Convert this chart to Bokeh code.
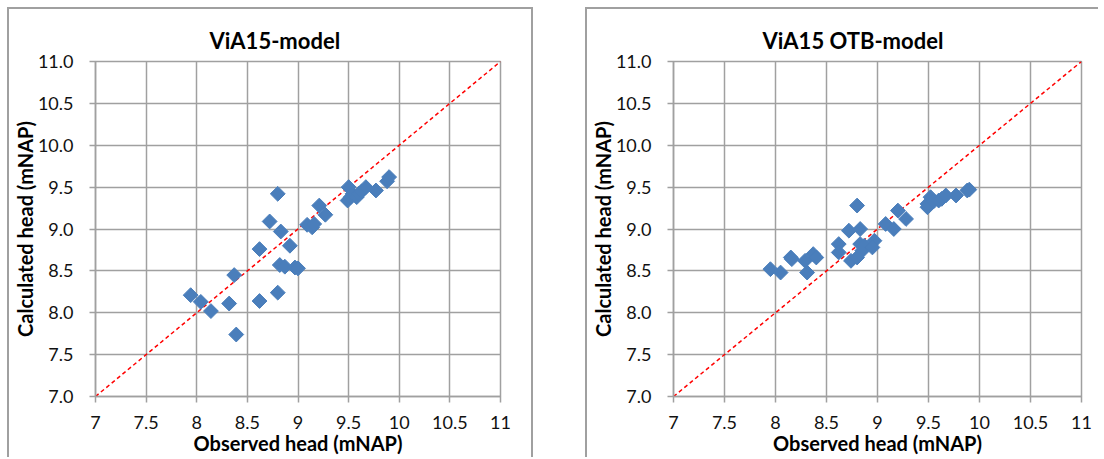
import math
from bokeh.plotting import figure
from bokeh.layouts import row
from bokeh.models import FixedTicker, Range1d
from bokeh.embed import file_html
from bokeh.resources import INLINE

# ---- data ----
titles = ["ViA15-model", "ViA15 OTB-model"]
x_label = "Observed head (mNAP)"
y_label = "Calculated head (mNAP)"

left_x = [7.94, 8.04, 8.14, 8.32, 8.37, 8.39, 8.62, 8.62, 8.72, 8.80, 8.80, 8.83, 8.82,
          8.87, 8.92, 8.97, 9.00, 9.09, 9.14, 9.16, 9.21, 9.27, 9.49, 9.50, 9.52, 9.54,
          9.58, 9.60, 9.63, 9.67, 9.77, 9.88, 9.90]
left_y = [8.21, 8.13, 8.02, 8.11, 8.45, 7.74, 8.76, 8.14, 9.09, 9.42, 8.24, 8.97, 8.57,
          8.55, 8.80, 8.54, 8.53, 9.05, 9.02, 9.06, 9.28, 9.17, 9.34, 9.50, 9.38, 9.42,
          9.38, 9.42, 9.45, 9.50, 9.46, 9.57, 9.62]

right_x = [7.95, 8.05, 8.15, 8.16, 8.29, 8.31, 8.37, 8.40, 8.62, 8.62, 8.72, 8.74, 8.80,
           8.80, 8.83, 8.83, 8.85, 8.87, 8.97, 8.95, 9.08, 9.16, 9.20, 9.28, 9.49, 9.49,
           9.52, 9.55, 9.60, 9.63, 9.67, 9.77, 9.88, 9.90]
right_y = [8.52, 8.48, 8.66, 8.64, 8.62, 8.48, 8.70, 8.66, 8.82, 8.72, 8.98, 8.62, 9.28,
           8.66, 9.00, 8.82, 8.74, 8.80, 8.86, 8.78, 9.06, 9.00, 9.22, 9.12, 9.30, 9.26,
           9.38, 9.33, 9.34, 9.36, 9.40, 9.40, 9.46, 9.47]

x_ticks = [7, 7.5, 8, 8.5, 9, 9.5, 10, 10.5, 11]
x_tick_labels = ["7", "7.5", "8", "8.5", "9", "9.5", "10", "10.5", "11"]
y_ticks = [7.0, 7.5, 8.0, 8.5, 9.0, 9.5, 10.0, 10.5, 11.0]
y_tick_labels = ["7.0", "7.5", "8.0", "8.5", "9.0", "9.5", "10.0", "10.5", "11.0"]
one_to_one = [7, 11]

FONT = "Lato"
GRID = "#a0a0a0"
BLUE = "#4a7ebb"


def make_chart(title, xs, ys, width, mbl, mbr, title_offset, borders):
    p = figure(width=width, height=450, x_range=Range1d(7, 11), y_range=Range1d(7, 11),
               output_backend="svg", toolbar_location=None,
               min_border_left=mbl, min_border_right=mbr,
               min_border_top=52, min_border_bottom=63)
    p.background_fill_color = "white"
    p.border_fill_color = "white"
    p.outline_line_color = GRID
    p.outline_line_width = 1.5

    p.title.text = title
    p.title.align = "left"
    p.title.offset = title_offset
    p.title.text_font = FONT
    p.title.text_font_size = "22px"
    p.title.text_font_style = "bold"
    p.title.text_color = "#000000"
    p.title.standoff = 16

    for ax, ticks, labels in ((p.xaxis[0], x_ticks, x_tick_labels), (p.yaxis[0], y_ticks, y_tick_labels)):
        ax.ticker = FixedTicker(ticks=ticks)
        ax.major_label_overrides = {t: l for t, l in zip(ticks, labels)}
        ax.minor_tick_line_color = None
        ax.major_tick_in = 0
        ax.major_tick_out = 6
        ax.axis_line_color = GRID
        ax.axis_line_width = 1.5
        ax.major_tick_line_color = GRID
        ax.major_tick_line_width = 1.5
        ax.major_label_text_font = FONT
        ax.major_label_text_font_size = "18px"
        ax.major_label_text_color = "#111111"
        ax.axis_label_text_font = FONT
        ax.axis_label_text_font_size = "20px"
        ax.axis_label_text_font_style = "bold"
        ax.axis_label_text_color = "#000000"
    p.xaxis.axis_label = x_label
    p.yaxis.axis_label = y_label
    p.xaxis.major_label_standoff = 13
    p.yaxis.major_label_standoff = 16
    p.xaxis.axis_label_standoff = -1
    p.yaxis.axis_label_standoff = -2

    p.xgrid.ticker = FixedTicker(ticks=x_ticks)
    p.ygrid.ticker = FixedTicker(ticks=y_ticks)
    for g in (p.xgrid[0], p.ygrid[0]):
        g.grid_line_color = GRID
        g.grid_line_width = 1.5

    p.line(one_to_one, one_to_one, line_color="red", line_width=1.5, line_dash="4 3")
    p.scatter(xs, ys, marker="square", size=10.5, angle=math.pi / 4,
              fill_color=BLUE, line_color=BLUE)

    p.styles = borders
    return p


border_l = {"border-top": "2px solid #a0a0a0", "border-left": "2px solid #a0a0a0",
            "border-right": "2px solid #a0a0a0"}
border_r = {"border-top": "2px solid #a0a0a0", "border-left": "2px solid #a0a0a0"}

p1 = make_chart(titles[0], left_x, left_y, 526, 85, 35, 114, border_l)
p2 = make_chart(titles[1], right_x, right_y, 513, 84, 19, 89, border_r)
p1.margin = (7, 0, 0, 7)
p2.margin = (7, 0, 0, 52)

layout = row(p1, p2)
open("out.html", "w").write(file_html(layout, INLINE))
